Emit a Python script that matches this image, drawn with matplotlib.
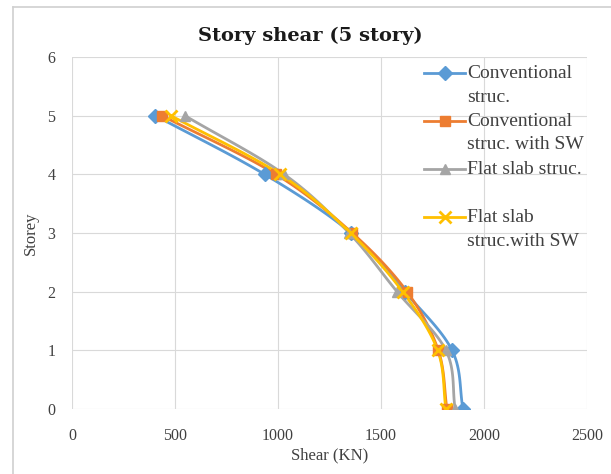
import numpy as np
import matplotlib
matplotlib.use("Agg")
import matplotlib.pyplot as plt
from matplotlib.lines import Line2D

# story levels and shear (KN) for each structural system
stories = [0, 1, 2, 3, 4, 5]
shear_conv = [1898, 1845, 1615, 1355, 935, 405]
shear_conv_sw = [1820, 1778, 1626, 1360, 990, 437]
shear_flat = [1860, 1815, 1578, 1345, 1030, 548]
shear_flat_sw = [1815, 1775, 1605, 1352, 1010, 480]

labels = [
    "Conventional\nstruc.",
    "Conventional\nstruc. with SW",
    "Flat slab struc.\n",
    "Flat slab\nstruc.with SW",
]
colors = ["#5B9BD5", "#ED7D31", "#A5A5A5", "#FFC000"]
markers = ["D", "s", "^", "x"]

SERIF = ["Liberation Serif", "DejaVu Serif"]
plt.rcParams["font.family"] = SERIF
W, H = 611, 474


def fx(px):
    return px / W


def fy(py):
    return 1 - py / H


def smooth(x, y, n=20):
    """Catmull-Rom curve through the points (like a smoothed scatter line)."""
    p = np.column_stack([x, y]).astype(float)
    p = np.vstack([2 * p[0] - p[1], p, 2 * p[-1] - p[-2]])
    out = []
    t = np.linspace(0, 1, n)[:, None]
    for i in range(1, len(p) - 2):
        p0, p1, p2, p3 = p[i - 1], p[i], p[i + 1], p[i + 2]
        seg = 0.5 * ((2 * p1) + (-p0 + p2) * t + (2 * p0 - 5 * p1 + 4 * p2 - p3) * t ** 2
                     + (-p0 + 3 * p1 - 3 * p2 + p3) * t ** 3)
        out.append(seg if i == 1 else seg[1:])
    c = np.vstack(out)
    return c[:, 0], c[:, 1]


fig = plt.figure(figsize=(W / 100, H / 100), dpi=100)
ax = fig.add_axes([fx(72), fy(409), fx(587) - fx(72), fy(57) - fy(409)])

series = [shear_conv, shear_conv_sw, shear_flat, shear_flat_sw]
for vals, col, mk in zip(series, colors, markers):
    sx, sy = smooth(vals, stories)
    ax.plot(sx, sy, color=col, lw=2.0, zorder=3)
    ax.plot(vals, stories, ls="none", marker=mk, color=col,
            ms=7 if mk != "x" else 8, mew=2 if mk == "x" else 1, zorder=4)

ax.set_xlim(0, 2500)
ax.set_ylim(0, 6)
ax.set_xticks(range(0, 2501, 500))
ax.set_yticks(range(0, 7))
ax.grid(True, color="#D9D9D9", lw=0.8)
ax.set_axisbelow(True)
for s in ax.spines.values():
    s.set_visible(False)
ax.tick_params(axis="x", length=0, labelsize=11.5, colors="#404040", pad=14)
ax.tick_params(axis="y", length=0, labelsize=11.5, colors="#404040", pad=12)

ax.set_xlabel("Shear (KN)", fontsize=12, color="#404040", labelpad=2)
ax.set_ylabel("Storey", fontsize=12, color="#404040", labelpad=6)
fig.text(fx(310), fy(36), "Story shear (5 story)", ha="center", va="center",
         fontsize=14, fontweight="bold", color="#1a1a1a", family="DejaVu Serif")

# legend drawn by hand so each handle sits on the first line of its label
line_h = 24
y0 = 73
for i, (lab, col, mk) in enumerate(zip(labels, colors, markers)):
    yy = y0 + i * 2 * line_h
    fig.add_artist(Line2D([fx(424), fx(465)], [fy(yy), fy(yy)], color=col, lw=2.0))
    fig.add_artist(Line2D([fx(444.5)], [fy(yy)], color=col, marker=mk,
                          ms=7 if mk != "x" else 8, mew=2 if mk == "x" else 1))
    for j, part in enumerate(lab.split("\n")):
        fig.text(fx(467), fy(yy + j * line_h), part, ha="left", va="center",
                 fontsize=14, color="#404040")

# chart frame (left and top edges fall inside the image)
fig.add_artist(Line2D([fx(13), fx(13)], [0, fy(7)], color="#D0D0D0", lw=1.2))
fig.add_artist(Line2D([fx(13), 1], [fy(7), fy(7)], color="#D0D0D0", lw=1.2))

fig.savefig("out.png", dpi=100)
